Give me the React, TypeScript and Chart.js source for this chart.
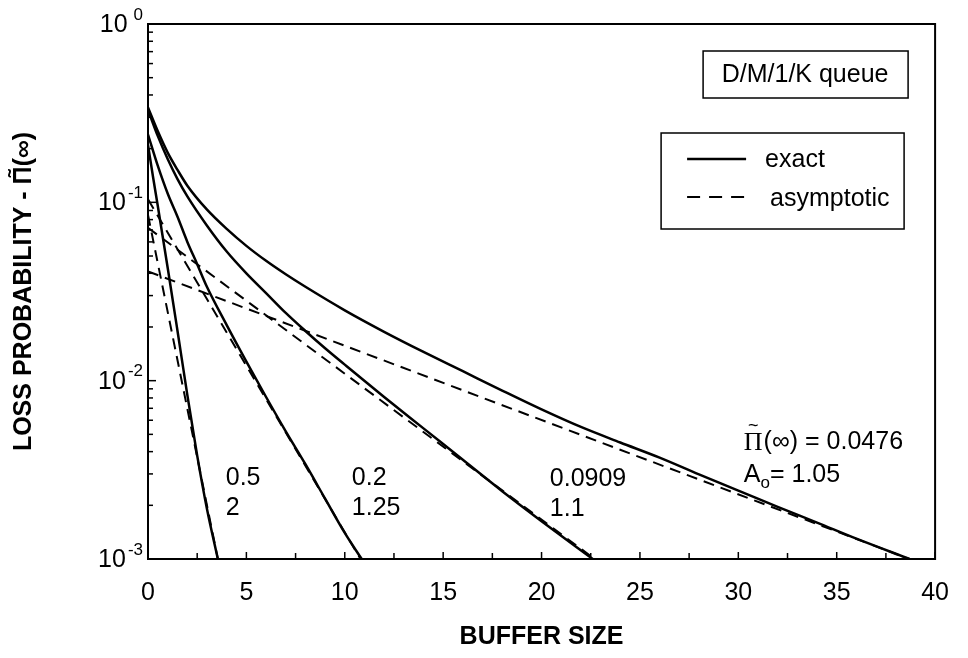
import React, { useEffect, useRef } from 'react';
import { Chart, registerables } from 'chart.js';

Chart.register(...registerables);

// ---------- data ----------
const bufferTicks = [0, 5, 10, 15, 20, 25, 30, 35, 40];
const yDecades = [0.001, 0.01, 0.1, 1];
const yExponents = ['-3', '-2', '-1', '0'];

const caseLossInf = ['0.5', '0.2', '0.0909', '0.0476'];
const caseA0 = ['2', '1.25', '1.1', '1.05'];

// exact (solid) curves
const exactA2x = [0, 0.25, 0.5, 1, 1.5, 2, 2.5, 3, 3.55];
const exactA2y = [0.21, 0.14, 0.095, 0.043, 0.019, 0.0083, 0.0038, 0.0019, 0.001];

const exactA125x = [0, 0.5, 1, 1.5, 2, 2.5, 3, 4, 5, 6, 7, 8, 9, 10, 10.86];
const exactA125y = [0.24, 0.16, 0.112, 0.083, 0.06, 0.045, 0.0335, 0.0205, 0.0128, 0.0081, 0.0052, 0.0034, 0.00218, 0.0014, 0.001];

const exactA11x = [0, 0.5, 1, 1.5, 2, 3, 4, 5, 6, 7, 8, 9, 10, 12, 14, 16, 18, 20, 22.6];
const exactA11y = [0.33, 0.235, 0.175, 0.135, 0.108, 0.074, 0.053, 0.04, 0.031, 0.024, 0.019, 0.0152, 0.0123, 0.0081, 0.0054, 0.0036, 0.0024, 0.00163, 0.001];

const exactA105x = [0, 0.5, 1, 1.5, 2, 3, 4, 5, 6, 7, 8, 10, 12, 14, 16, 18, 20, 22, 24, 26, 28, 30, 32, 34, 36, 38.7];
const exactA105y = [0.34, 0.25, 0.19, 0.152, 0.124, 0.091, 0.071, 0.057, 0.047, 0.0395, 0.0336, 0.0248, 0.0188, 0.0145, 0.0113, 0.0088, 0.0069, 0.0055, 0.0045, 0.0037, 0.00298, 0.00242, 0.00196, 0.0016, 0.0013, 0.001];

// asymptotic (dashed) lines
const asymA2x = [0, 3.55];
const asymA2y = [0.085, 0.001];
const asymA125x = [0, 10.8];
const asymA125y = [0.104, 0.001];
const asymA11x = [0, 22.7];
const asymA11y = [0.072, 0.001];
const asymA105x = [0, 38.7];
const asymA105y = [0.041, 0.001];

const legendLabels = ['exact', 'asymptotic'];
const boxTitle = 'D/M/1/K queue';
const xTitle = 'BUFFER SIZE';
const yTitle = 'LOSS PROBABILITY - \u03A0\u0303(\u221E)';

// annotation anchors (data coordinates)
const caseLabelX = [3.95, 10.36, 20.42];
const caseLabelY = [0.00285, 0.00285, 0.0028];
const infoLabelX = 30.28;
const infoLabelY = [0.00454, 0.00296];
const infoLossInf = '0.0476';
const infoA0 = '1.05';

const SANS = "'Liberation Sans', Arial, Helvetica, sans-serif";
const SERIF = "'Liberation Serif', 'Times New Roman', serif";

function pts(xs: number[], ys: number[]) {
  return xs.map((x, i) => ({ x, y: ys[i] }));
}

const decorPlugin = {
  id: 'decor',
  afterDraw(chart: any) {
    const { ctx, chartArea: ca, scales } = chart;
    const xs = scales.x;
    const ys = scales.y;
    ctx.save();
    ctx.strokeStyle = '#000';
    ctx.fillStyle = '#000';

    // frame
    ctx.lineWidth = 2;
    ctx.strokeRect(ca.left, ca.top, ca.right - ca.left, ca.bottom - ca.top);

    // inner y ticks (log)
    ctx.lineWidth = 1.5;
    for (let k = -3; k <= 0; k++) {
      for (let m = 1; m <= 9; m++) {
        const v = m * Math.pow(10, k);
        if (v > 1.0001) break;
        const py = ys.getPixelForValue(v);
        const len = m === 1 ? 8 : 5;
        ctx.beginPath();
        ctx.moveTo(ca.left, py);
        ctx.lineTo(ca.left + len, py);
        ctx.stroke();
      }
    }
    // inner x ticks
    for (let v = 0; v <= 40.001; v += 2.5) {
      const px = xs.getPixelForValue(v);
      const len = v % 5 === 0 ? 7 : 6;
      ctx.beginPath();
      ctx.moveTo(px, ca.bottom);
      ctx.lineTo(px, ca.bottom - len);
      ctx.stroke();
    }

    // y tick labels 10^n
    ctx.textBaseline = 'middle';
    yDecades.forEach((v, i) => {
      const py = ys.getPixelForValue(v);
      const exp = yExponents[i];
      ctx.font = `17px ${SANS}`;
      ctx.textAlign = 'right';
      const rx = ca.left - 5;
      const ew = ctx.measureText(exp).width;
      ctx.fillText(exp, rx, py - 9);
      ctx.font = `25px ${SANS}`;
      ctx.fillText('10', rx - ew - (exp === '0' ? 6 : 2), py + 1);
    });

    // box with queue name
    const r = ca.right;
    const t = ca.top;
    ctx.lineWidth = 1.5;
    ctx.strokeRect(r - 232, t + 27, 205, 47);
    ctx.font = `25px ${SANS}`;
    ctx.textAlign = 'center';
    ctx.fillText(boxTitle, r - 130, t + 51);

    // legend box
    ctx.strokeRect(r - 274, t + 109, 243, 96);
    ctx.lineWidth = 2.5;
    ctx.beginPath();
    ctx.moveTo(r - 248, t + 135);
    ctx.lineTo(r - 189, t + 135);
    ctx.stroke();
    ctx.lineWidth = 2;
    ctx.setLineDash([13, 9]);
    ctx.beginPath();
    ctx.moveTo(r - 248, t + 173);
    ctx.lineTo(r - 191, t + 173);
    ctx.stroke();
    ctx.setLineDash([]);
    ctx.textAlign = 'left';
    ctx.fillText(legendLabels[0], r - 170, t + 136);
    ctx.fillText(legendLabels[1], r - 165, t + 175);

    // case labels
    ctx.font = `25px ${SANS}`;
    caseLabelX.forEach((x, i) => {
      const px = xs.getPixelForValue(x);
      const py = ys.getPixelForValue(caseLabelY[i]);
      ctx.fillText(caseLossInf[i], px, py);
      ctx.fillText(caseA0[i], px, py + 30);
    });

    // info label for the last case
    const ix = xs.getPixelForValue(infoLabelX);
    const iy1 = ys.getPixelForValue(infoLabelY[0]);
    const iy2 = ys.getPixelForValue(infoLabelY[1]);
    ctx.font = `26px ${SERIF}`;
    ctx.fillText('\u03A0', ix, iy1 + 1);
    const pw = ctx.measureText('\u03A0').width;
    ctx.font = `18px ${SANS}`;
    ctx.textAlign = 'center';
    ctx.fillText('~', ix + pw / 2, iy1 - 16);
    ctx.textAlign = 'left';
    ctx.font = `25px ${SANS}`;
    ctx.fillText('(\u221E) = ' + infoLossInf, ix + pw + 1, iy1);

    ctx.fillText('A', ix, iy2);
    const aw = ctx.measureText('A').width;
    ctx.font = `17px ${SANS}`;
    ctx.fillText('o', ix + aw, iy2 + 8);
    const ow = ctx.measureText('o').width;
    ctx.font = `25px ${SANS}`;
    ctx.fillText('= ' + infoA0, ix + aw + ow, iy2);

    ctx.restore();
  },
};

export default function App() {
  const ref = useRef<HTMLCanvasElement>(null);

  useEffect(() => {
    const canvas = ref.current;
    if (!canvas) return;
    const solid = (label: string, xs: number[], ys: number[]) => ({
      label,
      data: pts(xs, ys),
      borderColor: '#000',
      backgroundColor: '#000',
      borderWidth: 2.5,
      pointRadius: 0,
      cubicInterpolationMode: 'monotone' as const,
      fill: false,
    });
    const dashed = (label: string, xs: number[], ys: number[]) => ({
      label,
      data: pts(xs, ys),
      borderColor: '#000',
      backgroundColor: '#000',
      borderWidth: 2,
      borderDash: [11, 7],
      pointRadius: 0,
      fill: false,
    });

    const chart = new Chart(canvas, {
      type: 'line',
      data: {
        datasets: [
          solid('exact A0=2', exactA2x, exactA2y),
          solid('exact A0=1.25', exactA125x, exactA125y),
          solid('exact A0=1.1', exactA11x, exactA11y),
          solid('exact A0=1.05', exactA105x, exactA105y),
          dashed('asymptotic A0=2', asymA2x, asymA2y),
          dashed('asymptotic A0=1.25', asymA125x, asymA125y),
          dashed('asymptotic A0=1.1', asymA11x, asymA11y),
          dashed('asymptotic A0=1.05', asymA105x, asymA105y),
        ],
      },
      options: {
        responsive: false,
        animation: false,
        devicePixelRatio: 1,
        layout: { padding: { top: 24, right: 21, left: 0, bottom: 0 } },
        plugins: {
          legend: { display: false },
          tooltip: { enabled: false },
        },
        scales: {
          x: {
            type: 'linear',
            min: 0,
            max: 40,
            afterBuildTicks: (scale: any) => {
              scale.ticks = bufferTicks.map((v) => ({ value: v }));
            },
            afterFit: (scale: any) => {
              scale.height = 99;
            },
            ticks: {
              color: '#000',
              font: { family: SANS, size: 25 },
              padding: 19,
              maxRotation: 0,
              autoSkip: false,
            },
            grid: { display: false, drawTicks: false },
            border: { display: false },
            title: {
              display: true,
              text: xTitle,
              color: '#000',
              font: { family: SANS, size: 25, weight: 'bold' },
              padding: { top: 0, bottom: 6 },
            },
          },
          y: {
            type: 'logarithmic',
            min: 0.001,
            max: 1,
            afterFit: (scale: any) => {
              scale.width = 148;
            },
            ticks: { display: false },
            grid: { display: false, drawTicks: false },
            border: { display: false },
            title: {
              display: true,
              text: yTitle,
              color: '#000',
              font: { family: SANS, size: 25, weight: 'bold' },
              padding: { top: 9, bottom: 0 },
            },
          },
        },
      },
      plugins: [decorPlugin],
    } as any);

    return () => chart.destroy();
  }, []);

  return (
    <div style={{ position: 'fixed', left: 0, top: 0, width: 968, height: 658, background: '#fff' }}>
      <canvas ref={ref} width={968} height={658} style={{ display: 'block', width: 968, height: 658 }} />
    </div>
  );
}
